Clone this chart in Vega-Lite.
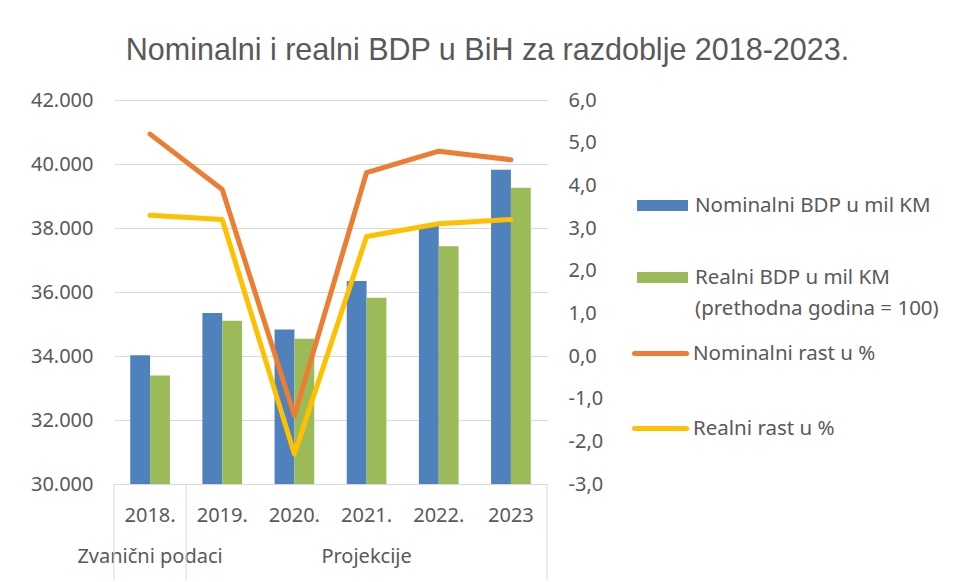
{
  "$schema": "https://vega.github.io/schema/vega-lite/v6.json",
  "width": 433,
  "height": 384,
  "autosize": {"type": "none"},
  "padding": {"left": 114, "top": 100, "right": 407, "bottom": 98},
  "background": "white",
  "config": {"view": {"stroke": null}, "font": "Noto Sans"},
  "title": {
    "text": "Nominalni i realni BDP u BiH za razdoblje 2018-2023.",
    "font": "Liberation Sans",
    "fontSize": 30.5,
    "fontWeight": "normal",
    "color": "#595959",
    "anchor": "middle",
    "frame": "group",
    "dx": 157,
    "offset": 24
  },
  "datasets": {
    "bdp": [
      {"godina": "2018.", "serija": "Nominalni BDP u mil KM", "vrijednost": 34020},
      {"godina": "2018.", "serija": "Realni BDP u mil KM", "vrijednost": 33390},
      {"godina": "2019.", "serija": "Nominalni BDP u mil KM", "vrijednost": 35340},
      {"godina": "2019.", "serija": "Realni BDP u mil KM", "vrijednost": 35100},
      {"godina": "2020.", "serija": "Nominalni BDP u mil KM", "vrijednost": 34830},
      {"godina": "2020.", "serija": "Realni BDP u mil KM", "vrijednost": 34540},
      {"godina": "2021.", "serija": "Nominalni BDP u mil KM", "vrijednost": 36340},
      {"godina": "2021.", "serija": "Realni BDP u mil KM", "vrijednost": 35820},
      {"godina": "2022.", "serija": "Nominalni BDP u mil KM", "vrijednost": 38070},
      {"godina": "2022.", "serija": "Realni BDP u mil KM", "vrijednost": 37430},
      {"godina": "2023", "serija": "Nominalni BDP u mil KM", "vrijednost": 39820},
      {"godina": "2023", "serija": "Realni BDP u mil KM", "vrijednost": 39260}
    ],
    "rast": [
      {"godina": "2018.", "serija": "Nominalni rast u %", "postotak": 5.2},
      {"godina": "2019.", "serija": "Nominalni rast u %", "postotak": 3.9},
      {"godina": "2020.", "serija": "Nominalni rast u %", "postotak": -1.4},
      {"godina": "2021.", "serija": "Nominalni rast u %", "postotak": 4.3},
      {"godina": "2022.", "serija": "Nominalni rast u %", "postotak": 4.8},
      {"godina": "2023", "serija": "Nominalni rast u %", "postotak": 4.6},
      {"godina": "2018.", "serija": "Realni rast u %", "postotak": 3.3},
      {"godina": "2019.", "serija": "Realni rast u %", "postotak": 3.2},
      {"godina": "2020.", "serija": "Realni rast u %", "postotak": -2.3},
      {"godina": "2021.", "serija": "Realni rast u %", "postotak": 2.8},
      {"godina": "2022.", "serija": "Realni rast u %", "postotak": 3.1},
      {"godina": "2023", "serija": "Realni rast u %", "postotak": 3.2}
    ],
    "granice_pocetak": [
      {"godina": "2018."},
      {"godina": "2019."}
    ],
    "granice_kraj": [
      {"godina": "2023"}
    ]
  },
  "layer": [
    {
      "layer": [
        {
          "data": {"name": "bdp"},
          "mark": {"type": "bar", "clip": true},
          "encoding": {
            "x": {
              "field": "godina",
              "type": "nominal",
              "sort": null,
              "scale": {"paddingInner": 0.45, "paddingOuter": 0.225},
              "axis": {
                "title": null,
                "orient": "bottom",
                "domainColor": "#D9D9D9",
                "domainWidth": 1,
                "ticks": false,
                "labelAngle": 0,
                "labelFont": "Noto Sans",
                "labelFontSize": 20,
                "labelColor": "#595959",
                "labelBaseline": "alphabetic",
                "labelPadding": 37,
                "labelLineHeight": 41,
                "labelOverlap": false,
                "labelExpr": "datum.value == '2018.' ? ['2018.', 'Zvanični podaci'] : datum.value == '2021.' ? ['2021.', 'Projekcije'] : datum.value"
              }
            },
            "xOffset": {
              "field": "serija",
              "type": "nominal",
              "sort": null,
              "scale": {"paddingInner": 0, "paddingOuter": 0}
            },
            "y": {
              "field": "vrijednost",
              "type": "quantitative",
              "scale": {"domain": [30000, 42000], "nice": false, "zero": false},
              "axis": {
                "title": null,
                "orient": "left",
                "values": [30000, 32000, 34000, 36000, 38000, 40000, 42000],
                "grid": true,
                "gridColor": "#D9D9D9",
                "gridWidth": 1,
                "ticks": false,
                "domain": false,
                "labelFont": "Noto Sans",
                "labelFontSize": 20,
                "labelColor": "#595959",
                "labelPadding": 21,
                "labelExpr": "replace(format(datum.value, ',.0f'), ',', '.')"
              }
            },
            "fill": {
              "field": "serija",
              "type": "nominal",
              "sort": null,
              "scale": {"range": ["#4F81BD", "#9BBB59"]},
              "legend": {
                "orient": "none",
                "legendX": 523,
                "legendY": 80,
                "title": null,
                "padding": 0,
                "symbolType": "M-1,-0.216H1V0.216H-1Z",
                "symbolSize": 2601,
                "symbolStrokeWidth": 0,
                "labelFont": "Noto Sans",
                "labelFontSize": 20.5,
                "labelColor": "#595959",
                "labelOffset": 7,
                "labelLimit": 500,
                "labelLineHeight": 31,
                "rowPadding": 36,
                "labelExpr": "datum.label == 'Realni BDP u mil KM' ? ['Realni BDP u mil KM', '(prethodna godina = 100)'] : datum.label",
                "encode": {
                  "labels": {
                    "update": {
                      "lineHeight": {"value": 31}
                    }
                  }
                }
              }
            }
          }
        },
        {
          "data": {"name": "granice_pocetak"},
          "mark": {"type": "rule", "color": "#D9D9D9", "strokeWidth": 1},
          "encoding": {
            "x": {"field": "godina", "type": "nominal", "sort": null, "bandPosition": -0.409},
            "y": {"datum": 30000, "type": "quantitative"},
            "y2": {"datum": 27000}
          }
        },
        {
          "data": {"name": "granice_kraj"},
          "mark": {"type": "rule", "color": "#D9D9D9", "strokeWidth": 1},
          "encoding": {
            "x": {"field": "godina", "type": "nominal", "sort": null, "bandPosition": 1.409},
            "y": {"datum": 30000, "type": "quantitative"},
            "y2": {"datum": 27000}
          }
        }
      ]
    },
    {
      "data": {"name": "rast"},
      "mark": {"type": "line", "strokeWidth": 5, "strokeJoin": "round", "strokeCap": "round"},
      "encoding": {
        "x": {"field": "godina", "type": "nominal", "sort": null},
        "y": {
          "field": "postotak",
          "type": "quantitative",
          "scale": {"domain": [-3, 6], "nice": false, "zero": false},
          "axis": {
            "title": null,
            "orient": "right",
            "values": [-3, -2, -1, 0, 1, 2, 3, 4, 5, 6],
            "grid": false,
            "ticks": false,
            "domain": false,
            "labelFont": "Noto Sans",
            "labelFontSize": 20,
            "labelColor": "#595959",
            "labelPadding": 21,
            "labelExpr": "(datum.value < 0 ? '-' : '') + replace(format(abs(datum.value), '.1f'), '.', ',')"
          }
        },
        "stroke": {
          "field": "serija",
          "type": "nominal",
          "sort": null,
          "scale": {"range": ["#ED7D31", "#FFC000"]},
          "legend": {
            "orient": "none",
            "legendX": 518,
            "legendY": 225,
            "title": null,
            "padding": 0,
            "symbolType": "stroke",
            "symbolSize": 2704,
            "symbolStrokeWidth": 5,
            "labelFont": "Noto Sans",
            "labelFontSize": 20.5,
            "labelColor": "#595959",
            "labelOffset": 4,
            "labelLimit": 500,
            "rowPadding": 36,
            "encode": {
              "symbols": {"update": {"strokeCap": {"value": "round"}}}
            }
          }
        }
      }
    }
  ],
  "resolve": {"scale": {"y": "independent"}}
}
